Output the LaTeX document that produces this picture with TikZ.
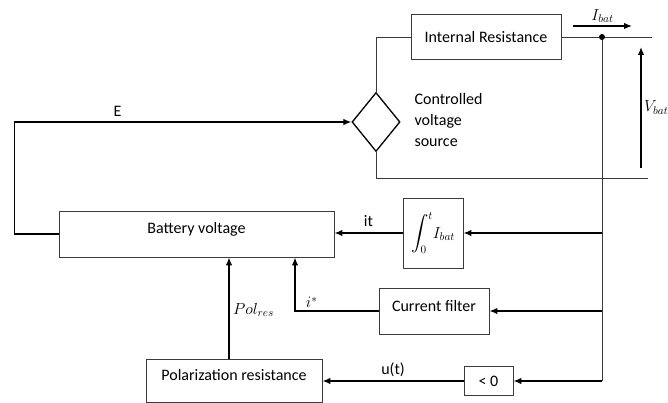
\documentclass[tikz,border=0pt]{standalone}
\usepackage{fix-cm}
\usepackage{amsmath}
\usepackage{fontspec}
\setmainfont{Carlito}
\usetikzlibrary{arrows.meta,positioning,calc,shapes.geometric}
\definecolor{WireGray}{HTML}{3A3A3A}

\begin{document}
\begin{tikzpicture}[x=1pt,y=-1pt,>={Latex[length=8pt,width=6.5pt]},
  font=\fontsize{16}{21}\selectfont,
  blk/.style={draw=WireGray,line width=0.9pt,inner sep=2pt},
  wire/.style={draw=WireGray,line width=0.9pt},
  arr/.style={->,line width=1.4pt},
  dot/.style={circle,fill,inner sep=0pt,minimum size=6pt}]
\useasboundingbox (0,0) rectangle (668,403);
% cell
\node[blk,minimum width=150pt,minimum height=45pt] (intres) at (486,37) {Internal Resistance};
\node[diamond,draw,line width=1.3pt,inner sep=0pt,minimum width=48pt,minimum height=59pt] (cvs) at (376,122) {};
\node[anchor=west,align=left] (cvstxt) at (411,120) {Controlled\\voltage\\source};
\node[dot] (junc) at (602,37) {};
\coordinate (topend) at (652,37);
\coordinate (botend) at (648,178);
\draw[wire] (cvs.north) |- (intres.west);
\draw[wire] (intres.east) -- (junc) -- (topend);
\draw[wire] (cvs.south) |- (botend);
\coordinate (ibatL) at (573,26);
\coordinate (ibatR) at (632,26);
\draw[arr] (ibatL) -- node[above=-1pt] {$I_{bat}$} (ibatR);
\coordinate (vbatB) at (641,168);
\coordinate (vbatT) at (641,47);
\draw[arr] (vbatB) -- node[right=-1pt] {$V_{bat}$} (vbatT);
% blocks
\node[blk,minimum width=275pt,minimum height=46pt] (batt) at (196.5,234) {};
\node (batttxt) at (196.5,229) {Battery voltage};
\node[blk,minimum width=60pt,minimum height=70pt] (integ) at (433,233) {$\displaystyle\int_0^t\! I_{bat}$};
\node[blk,minimum width=110pt,minimum height=46pt] (filt) at (434,311) {};
\node (filttxt) at (434,306) {Current filter};
\node[blk,minimum width=49pt,minimum height=29pt] (neg) at (488.5,381) {< 0};
\node[blk,minimum width=176pt,minimum height=43pt] (pol) at (234,380.5) {};
\node (poltxt) at (234,375) {Polarization resistance};
% branches from the current sense
\coordinate (b1) at (602,233);
\coordinate (b2) at (602,311);
\coordinate (b3) at (602,381);
\draw[wire] (junc) -- (b3);
\draw[arr] (b1) -- (integ.east);
\draw[arr] (b2) -- (filt.east);
\draw[arr] (b3) -- (neg.east);
\draw[arr] (integ.west) -- node[above=2pt] {it} (integ.west -| batt.east);
\draw[arr] (filt.west) -| node[pos=0.4,above=-1pt] {$i^{*}$} ([xshift=98.5pt]batt.south);
\draw[arr] (neg.west) -- node[above=0pt] {u(t)} (neg.west -| pol.east);
\draw[arr] ([xshift=-5pt]pol.north) -- node[right=0pt,pos=0.48] {$Pol_{res}$} ([xshift=32.5pt]batt.south);
\draw[arr] (batt.west) -- ++(-44pt,0) |- node[pos=0.653,above=1pt] {E} (cvs.west);
\end{tikzpicture}
\end{document}
